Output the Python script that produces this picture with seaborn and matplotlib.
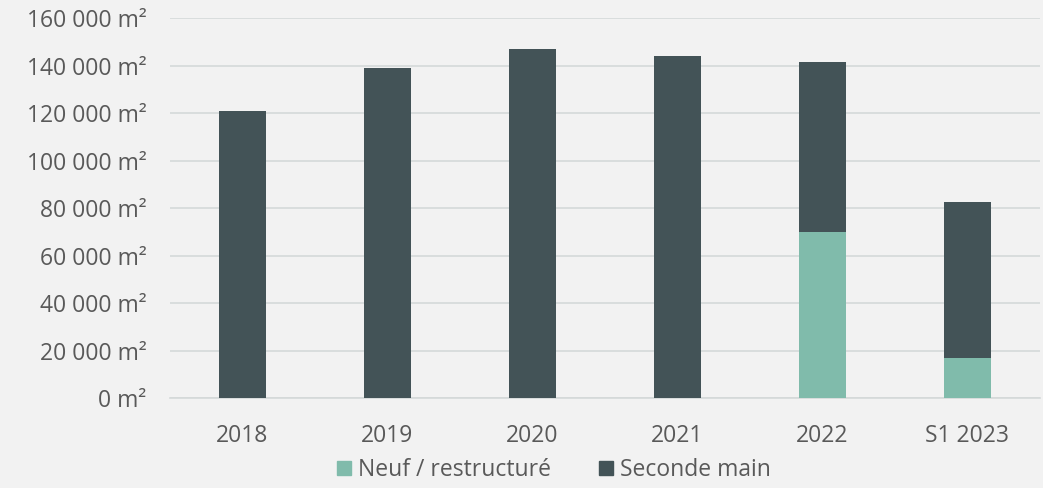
import matplotlib
matplotlib.use("Agg")
import matplotlib.pyplot as plt
import matplotlib.ticker as mticker
from matplotlib.patches import Patch
import seaborn as sns
import pandas as pd

periods = ["2018", "2019", "2020", "2021", "2022", "S1 2023"]
neuf = [0, 0, 0, 0, 70000, 17000]
seconde_main = [121000, 139000, 147000, 144000, 71500, 65500]

NEUF_COLOR = "#80bbab"
SECONDE_COLOR = "#435357"
BG = "#f2f2f2"
TEXT = "#595959"


def build_frame():
    df = pd.DataFrame({"periode": periods, "neuf": neuf, "seconde": seconde_main})
    df["total"] = df["neuf"] + df["seconde"]
    return df


def plot_chart(df, filename):
    sns.set_style("white")
    plt.rcParams["font.family"] = ["Open Sans", "DejaVu Sans"]

    fig = plt.figure(figsize=(10.43, 4.88), dpi=100, facecolor=BG)
    ax = fig.add_axes([0.163, 0.1844, 0.834, 0.7786])
    ax.set_facecolor(BG)

    sns.barplot(data=df, x="periode", y="total", color=SECONDE_COLOR,
                width=0.32, saturation=1, linewidth=0, ax=ax, zorder=3)
    sns.barplot(data=df, x="periode", y="neuf", color=NEUF_COLOR,
                width=0.32, saturation=1, linewidth=0, ax=ax, zorder=4)

    ax.set_ylim(0, 160000)
    ax.set_xlim(-0.5, len(periods) - 0.5)
    ax.yaxis.set_major_locator(mticker.MultipleLocator(20000))
    ax.yaxis.set_major_formatter(
        mticker.FuncFormatter(lambda v, _: f"{v:,.0f}".replace(",", " ") + " m²"))
    ax.grid(axis="y", color="#d5d9d9", linewidth=1.2, zorder=0)
    ax.set_axisbelow(True)
    for s in ["top", "right", "left"]:
        ax.spines[s].set_visible(False)
    ax.spines["bottom"].set_color("#d5d9d9")
    ax.spines["bottom"].set_linewidth(1.2)

    ax.tick_params(axis="both", length=0, labelsize=16.5, colors=TEXT)
    ax.tick_params(axis="x", pad=19)
    ax.tick_params(axis="y", pad=17)
    ax.set_xlabel("")
    ax.set_ylabel("")

    handles = [Patch(color=NEUF_COLOR, label="Neuf / restructuré"),
               Patch(color=SECONDE_COLOR, label="Seconde main")]
    fig.legend(handles=handles, loc="lower center", bbox_to_anchor=(0.531, -0.03),
               ncol=2, frameon=False, fontsize=16.5, labelcolor=TEXT,
               handlelength=0.6, handleheight=0.6, handletextpad=0.3,
               columnspacing=2.1)

    fig.savefig(filename, dpi=100, facecolor=BG)


def main():
    df = build_frame()
    plot_chart(df, "out.png")


if __name__ == "__main__":
    main()
